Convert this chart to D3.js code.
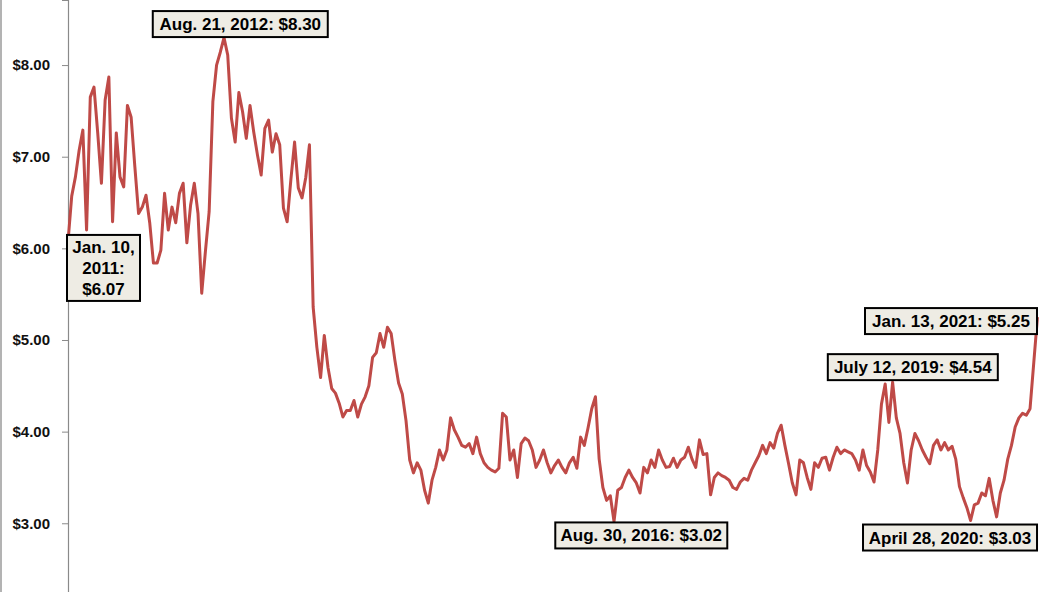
<!DOCTYPE html>
<html>
<head>
<meta charset="utf-8">
<script src="https://cdn.jsdelivr.net/npm/d3@7"></script>
<style>
  html, body { margin: 0; padding: 0; background: #fff; }
  svg { display: block; }
  text { font-family: "Liberation Sans", Arial, Helvetica, sans-serif; font-weight: bold; }
</style>
</head>
<body>
<svg id="chart" width="1052" height="592"></svg>
<script>
// ---- DATA ----
const startDate = "2011-01-10";
const stepDays = 14;
const prices = [
  6.07, 6.57, 6.78, 7.07, 7.29, 6.20, 7.65, 7.76, 7.26, 6.71,
  7.62, 7.87, 6.29, 7.26, 6.78, 6.67, 7.56, 7.43, 6.89, 6.38,
  6.45, 6.58, 6.28, 5.84, 5.84, 5.98, 6.60, 6.20, 6.45, 6.28,
  6.60, 6.71, 6.06, 6.47, 6.71, 6.38, 5.51, 5.97, 6.40, 7.60,
  8.00, 8.14, 8.30, 8.11, 7.42, 7.16, 7.70, 7.49, 7.20, 7.56,
  7.27, 7.02, 6.80, 7.31, 7.40, 7.05, 7.25, 7.13, 6.44, 6.29,
  6.75, 7.16, 6.66, 6.55, 6.77, 7.13, 5.36, 4.92, 4.59, 5.05,
  4.70, 4.47, 4.42, 4.31, 4.16, 4.23, 4.23, 4.34, 4.16, 4.30,
  4.38, 4.50, 4.81, 4.86, 5.07, 4.92, 5.14, 5.07, 4.78, 4.53,
  4.41, 4.12, 3.69, 3.55, 3.66, 3.58, 3.36, 3.22, 3.47, 3.61,
  3.80, 3.69, 3.80, 4.15, 4.02, 3.94, 3.85, 3.83, 3.87, 3.76,
  3.94, 3.76, 3.66, 3.61, 3.58, 3.56, 3.60, 4.20, 4.16, 3.69,
  3.80, 3.50, 3.87, 3.93, 3.90, 3.80, 3.61, 3.69, 3.80, 3.66,
  3.55, 3.63, 3.69, 3.61, 3.55, 3.66, 3.72, 3.60, 3.94, 3.85,
  4.04, 4.25, 4.38, 3.70, 3.39, 3.25, 3.30, 3.02, 3.36, 3.39,
  3.50, 3.58, 3.50, 3.44, 3.33, 3.61, 3.55, 3.69, 3.61, 3.80,
  3.69, 3.61, 3.62, 3.71, 3.61, 3.69, 3.72, 3.83, 3.70, 3.61,
  3.91, 3.75, 3.76, 3.31, 3.50, 3.55, 3.52, 3.50, 3.47, 3.39,
  3.37, 3.45, 3.49, 3.47, 3.58, 3.66, 3.74, 3.85, 3.76, 3.88,
  3.82, 3.98, 4.07, 3.85, 3.65, 3.44, 3.31, 3.69, 3.66, 3.50,
  3.37, 3.66, 3.61, 3.71, 3.72, 3.58, 3.72, 3.83, 3.76, 3.80,
  3.78, 3.76, 3.69, 3.58, 3.80, 3.63, 3.56, 3.45, 3.80, 4.30,
  4.52, 4.10, 4.54, 4.15, 3.98, 3.66, 3.44, 3.80, 3.98, 3.90,
  3.80, 3.72, 3.65, 3.85, 3.91, 3.80, 3.88, 3.80, 3.84, 3.70,
  3.40, 3.28, 3.17, 3.03, 3.20, 3.22, 3.33, 3.30, 3.49, 3.25,
  3.07, 3.33, 3.47, 3.70, 3.85, 4.05, 4.15, 4.20, 4.18, 4.25,
  4.75, 5.25
];
const yTicks = [3, 4, 5, 6, 7, 8];
const xDomainDates = ["2011-01-10", "2021-01-13"];
const annDates  = ["2011-01-10", "2012-08-21", "2016-08-30", "2019-07-12", "2021-01-13", "2020-04-28"];
const annValues = [6.07, 8.30, 3.02, 4.54, 5.25, 3.03];
const annLines  = [
  ["Jan. 10,", "2011:", "$6.07"],
  ["Aug. 21, 2012: $8.30"],
  ["Aug. 30, 2016: $3.02"],
  ["July 12, 2019: $4.54"],
  ["Jan. 13, 2021: $5.25"],
  ["April 28, 2020: $3.03"]
];

// ---- LAYOUT (not data) ----
const W = 1052, H = 592;
const plotLeft = 68, plotRight = 1038;
const annLayout = [
  {dx: 35.5, dy: -7, w: 73, h: 66},
  {dx: 16, dy: -26.5, w: 175, h: 26},
  {dx: 27, dy: 1, w: 172, h: 26},
  {dx: 21, dy: -28, w: 170, h: 26},
  {dx: -87, dy: -9, w: 172, h: 26},
  {dx: -19, dy: 4, w: 174, h: 26}
];

const parse = d3.timeParse("%Y-%m-%d");
const t0 = parse(startDate);
const series = prices.map((v, i) => ({date: d3.timeDay.offset(t0, i * stepDays), value: v}));

const svg = d3.select("#chart");

const x = d3.scaleTime()
  .domain(xDomainDates.map(parse))
  .range([plotLeft, plotRight]);
const y = d3.scaleLinear()
  .domain([2.25, 8.71])
  .range([H, 0]);

// left page border
svg.append("line")
  .attr("x1", 1).attr("x2", 1).attr("y1", 0).attr("y2", H)
  .attr("stroke", "#9a9a9a").attr("stroke-width", 1.5);

// y axis
const yAxis = d3.axisLeft(y)
  .tickValues(yTicks)
  .tickFormat(d3.format("$.2f"))
  .tickSize(6)
  .tickPadding(12);
const gy = svg.append("g")
  .attr("transform", `translate(${plotLeft},0)`)
  .call(yAxis);
gy.select(".domain").attr("stroke", "#8a8a8a").attr("stroke-width", 1.2);
gy.selectAll(".tick line").attr("stroke", "#8a8a8a");
gy.selectAll(".tick text")
  .attr("fill", "#111")
  .style("font-size", "15px")
  .style("font-family", "'Liberation Sans', Arial, sans-serif")
  .style("font-weight", "bold");

// line
const line = d3.line()
  .x(d => x(d.date))
  .y(d => y(d.value));
svg.append("path")
  .datum(series)
  .attr("fill", "none")
  .attr("stroke", "#bf4a47")
  .attr("stroke-width", 3)
  .attr("stroke-linejoin", "round")
  .attr("d", line);

// annotations
const anns = annDates.map((d, i) => ({
  date: parse(d), value: annValues[i], lines: annLines[i], lay: annLayout[i]
}));
const ag = svg.append("g").selectAll("g").data(anns).join("g");
ag.each(function(a) {
  const g = d3.select(this);
  const px = x(a.date), py = y(a.value);
  const cx = px + a.lay.dx;
  const top = py + a.lay.dy;
  g.append("rect")
    .attr("x", cx - a.lay.w / 2)
    .attr("y", top)
    .attr("width", a.lay.w)
    .attr("height", a.lay.h)
    .attr("fill", "#eeece4")
    .attr("stroke", "#000")
    .attr("stroke-width", 2);
  const n = a.lines.length;
  const lh = 21;
  a.lines.forEach((t, k) => {
    g.append("text")
      .attr("x", cx)
      .attr("y", top + a.lay.h / 2 + (k - (n - 1) / 2) * lh + 6)
      .attr("text-anchor", "middle")
      .attr("fill", "#000")
      .style("font-size", "17px")
      .text(t);
  });
});
</script>
</body>
</html>
